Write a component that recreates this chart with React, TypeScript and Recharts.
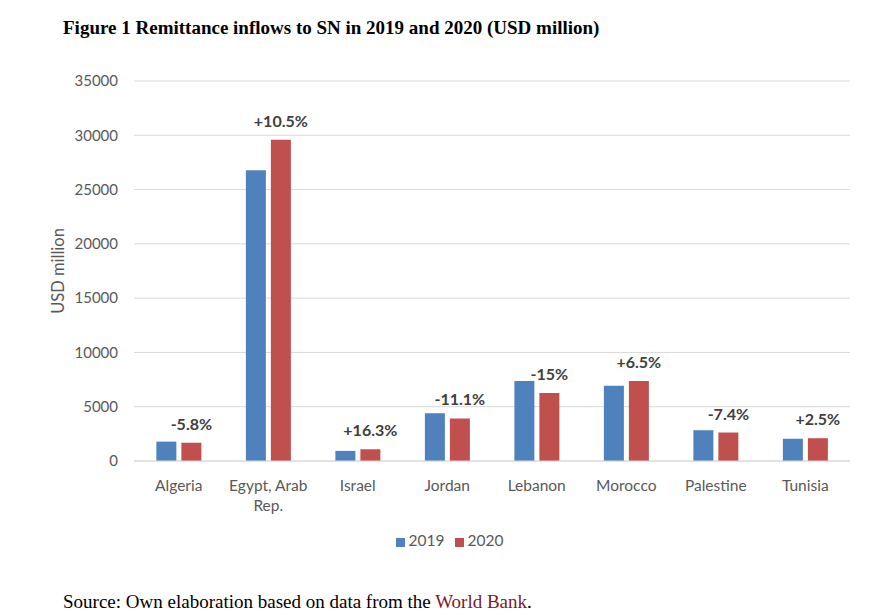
import React from 'react';
import { BarChart, Bar, XAxis, YAxis, CartesianGrid, Legend, LabelList } from 'recharts';

const countries = ['Algeria', 'Egypt, Arab Rep.', 'Israel', 'Jordan', 'Lebanon', 'Morocco', 'Palestine', 'Tunisia'];
const values2019 = [1786, 26780, 930, 4405, 7360, 6926, 2835, 2050];
const values2020 = [1682, 29600, 1082, 3916, 6256, 7376, 2625, 2100];
const changeLabels = ['-5.8%', '+10.5%', '+16.3%', '-11.1%', '-15%', '+6.5%', '-7.4%', '+2.5%'];
const yTicks = [0, 5000, 10000, 15000, 20000, 25000, 30000, 35000];
const tickLines: Record<string, string[]> = {
  'Egypt, Arab Rep.': ['Egypt, Arab', 'Rep.'],
};

const data = countries.map((c, i) => ({
  country: c,
  y2019: values2019[i],
  y2020: values2020[i],
  change: changeLabels[i],
}));

const FONT = 'Lato, "Open Sans", sans-serif';
const GRAY = '#595959';

const XTick = (props: any) => {
  const { x, y, payload } = props;
  const lines = tickLines[payload.value] || [payload.value];
  return (
    <text x={x} y={y} textAnchor="middle" fill={GRAY} fontSize={15.5} fontFamily={FONT}>
      {lines.map((l: string, i: number) => (
        <tspan key={i} x={x} dy={i === 0 ? 28 : 20}>{l}</tspan>
      ))}
    </text>
  );
};

export default function App() {
  return (
    <div style={{ position: 'absolute', left: 0, top: 0, width: 875, height: 613, background: '#fff' }}>
      <svg width={875} height={613} style={{ position: 'absolute', left: 0, top: 0 }}>
        <text x={63} y={34} fontFamily='"Liberation Serif", "Times New Roman", serif' fontWeight="bold" fontSize={19} fill="#000">
          Figure 1 Remittance inflows to SN in 2019 and 2020 (USD million)
        </text>
        <text x={63} y={608} fontFamily='"Liberation Serif", "Times New Roman", serif' fontSize={19} fill="#000">
          Source: Own elaboration based on data from the <tspan fill="#7a1a2a">World Bank</tspan>.
        </text>
      </svg>
      <div style={{ position: 'absolute', left: 0, top: 0 }}>
        <BarChart
          width={875}
          height={613}
          data={data}
          margin={{ top: 81, right: 25, bottom: 104, left: 0 }}
          barCategoryGap="25%"
          barGap={5}
        >
          <CartesianGrid vertical={false} stroke="#d9d9d9" />
          <XAxis
            dataKey="country"
            tick={<XTick />}
            tickLine={false}
            axisLine={{ stroke: '#d9d9d9' }}
            tickSize={0}
            interval={0}
          />
          <YAxis
            width={134}
            domain={[0, 35000]}
            ticks={yTicks}
            tickLine={false}
            axisLine={false}
            tickSize={0}
            tickMargin={16}
            tick={{ fill: GRAY, fontSize: 15, fontFamily: FONT }}
            label={{ value: 'USD million', angle: -90, position: 'center', dx: -9, fill: GRAY, fontSize: 16.5, fontFamily: FONT }}
          />
          <Legend
            verticalAlign="bottom"
            iconType="square"
            iconSize={9}
            wrapperStyle={{ top: 531, left: 5, width: 899, fontFamily: FONT, fontSize: 15.5 }}
            formatter={(v: string) => <span style={{ color: GRAY }}>{v}</span>}
          />
          <Bar dataKey="y2019" name="2019" fill="#4f81bd" isAnimationActive={false} />
          <Bar dataKey="y2020" name="2020" fill="#c0504d" isAnimationActive={false}>
            <LabelList dataKey="change" position="top" offset={13} fill="#404040" fontWeight="bold" fontSize={16} fontFamily={FONT} />
          </Bar>
        </BarChart>
      </div>
    </div>
  );
}
